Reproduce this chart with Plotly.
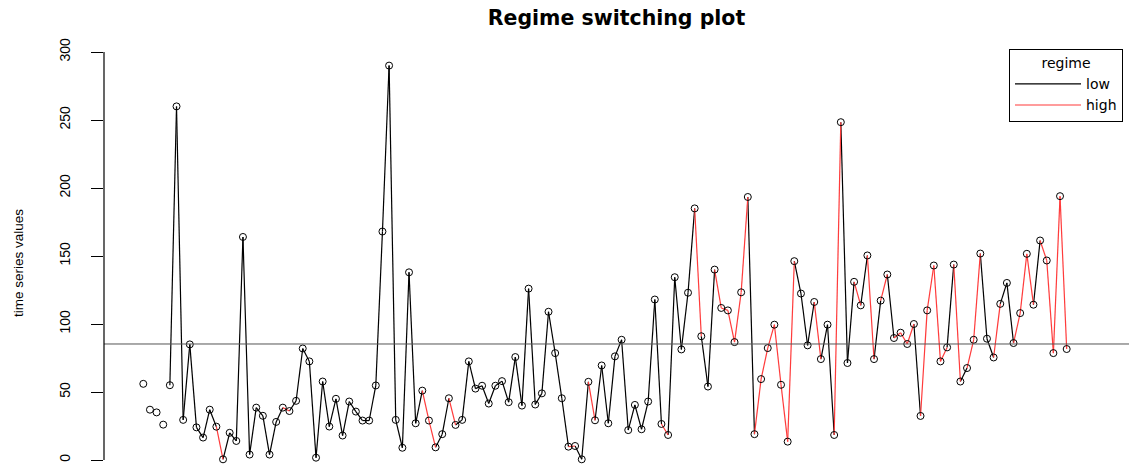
import plotly.graph_objects as go

# ---- data ----
time_index = list(range(1, 141))
values = [
    56, 37, 35, 26, 55, 260, 29.5, 85, 24, 16.5,
    37, 24.5, 0.5, 20, 14, 164, 4, 38.5, 32.5, 4,
    28, 38.5, 36, 43.5, 82, 72.5, 1.7, 57.7, 24.6, 45,
    18, 43, 35.6, 29, 29, 54.8, 168, 290, 29.5, 9,
    138, 27, 51, 29, 9.3, 19, 45.4, 25.8, 29.5, 72.5,
    52.5, 54.6, 41.5, 54.6, 58, 42.5, 75.7, 40, 126, 40.8,
    49, 109, 78.6, 45.4, 9.8, 10.3, 0.5, 57.5, 29.2, 69.5,
    27, 76.2, 88.4, 22, 40.5, 22.6, 43, 118, 26.5, 18.4,
    134.4, 81.3, 123, 185, 91, 54, 140, 111.8, 110, 86.7,
    123.3, 193.4, 19, 59.5, 82.3, 99.5, 55.3, 13.5, 146.2, 122.4,
    84.3, 116.2, 74.2, 99.5, 18.4, 248.4, 71.3, 131, 113.7, 150.4,
    74.2, 117.2, 136.4, 89.7, 93.6, 85.3, 100, 32.4, 110, 143,
    72.5, 82.8, 143.7, 57.7, 67.6, 88.4, 151.8, 89.2, 75.4, 114.8,
    130.2, 86, 108, 151.6, 114.2, 161.4, 146.7, 78.6, 194, 81.6,
]
# regime of the segment that ends at each point (None = no segment)
L, H = "low", "high"
regime = [
    None, None, None, None, None, L, L, L, L, L,
    L, L, H, L, L, L, L, L, L, L,
    L, L, H, L, L, L, L, L, L, L,
    L, L, L, L, L, L, L, L, L, L,
    L, L, L, H, H, L, L, H, L, L,
    L, L, L, L, L, L, L, L, L, L,
    L, L, L, L, L, H, L, L, H, L,
    L, L, L, L, L, L, L, L, L, H,
    L, L, L, L, H, L, L, H, H, H,
    H, H, L, H, H, H, H, H, H, L,
    L, L, H, L, L, H, L, L, H, L,
    H, L, H, L, H, H, H, L, H, H,
    H, H, L, H, L, H, H, L, L, H,
    L, L, H, H, H, L, H, H, H, H,
]
threshold = 85.3
regime_names = ["low", "high"]
regime_colors = {"low": "#000000", "high": "#ff3b3b"}
y_ticks = [0, 50, 100, 150, 200, 250, 300]

fig = go.Figure()

for name in regime_names:
    xs, ys = [], []
    for i in range(1, len(values)):
        if regime[i] == name:
            xs += [time_index[i - 1], time_index[i], None]
            ys += [values[i - 1], values[i], None]
    fig.add_trace(go.Scatter(
        x=xs, y=ys, mode="lines", name=name,
        line=dict(color=regime_colors[name], width=1.2),
        hoverinfo="skip",
    ))

fig.add_trace(go.Scatter(
    x=time_index, y=values, mode="markers", showlegend=False,
    marker=dict(symbol="circle-open", size=7, color="#000000",
                line=dict(width=1, color="#000000")),
))

# reference line and R-style y axis line
fig.add_shape(type="line", xref="paper", x0=0, x1=1, yref="y",
              y0=threshold, y1=threshold, line=dict(color="#555555", width=1))
fig.add_shape(type="line", xref="paper", x0=0, x1=0, yref="y",
              y0=y_ticks[0], y1=y_ticks[-1], line=dict(color="#000000", width=1.2))

W, H_ = 1129, 464
ml, mr, mt, mb = 104, 0, 40, 0
px_per_unit_y = 1.36
y_min = -(H_ - 460) / px_per_unit_y
y_max = y_min + (H_ - mt - mb) / px_per_unit_y
px_per_unit_x = 6.643
x_min = 1 - (143.3 - ml) / px_per_unit_x
x_max = x_min + (W - ml - mr) / px_per_unit_x

sans = "Liberation Sans, Arial, sans-serif"

fig.update_layout(
    width=W, height=H_,
    margin=dict(l=ml, r=mr, t=mt, b=mb),
    paper_bgcolor="white", plot_bgcolor="white",
    title=dict(text="<b>Regime switching plot</b>", x=(ml + (W - ml - mr) / 2) / W,
               xanchor="center", y=1 - 18 / H_, yanchor="middle",
               font=dict(family="DejaVu Sans", size=20.5, color="#000000")),
    xaxis=dict(visible=False, range=[x_min, x_max]),
    yaxis=dict(range=[y_min, y_max], tickvals=y_ticks, ticks="outside",
               ticklen=12, tickwidth=1, tickcolor="#000000", showgrid=False,
               zeroline=False, showline=False, tickangle=-90,
               ticklabelstandoff=15,
               tickfont=dict(family=sans, size=14, color="#000000")),
    legend=dict(x=(1009 - ml) / (W - ml - mr), y=1 - (49 - mt) / (H_ - mt - mb),
                xanchor="left", yanchor="top",
                bordercolor="#000000", borderwidth=1, bgcolor="white",
                itemwidth=66,
                title=dict(text="regime", side="top center",
                           font=dict(family="DejaVu Sans", size=14, color="#000000")),
                font=dict(family="DejaVu Sans", size=14, color="#000000"),
                tracegroupgap=0),
    annotations=[dict(text="time series values", xref="paper", yref="paper",
                      x=(18 - ml) / (W - ml - mr), y=1 - (263 - mt) / (H_ - mt - mb),
                      xanchor="center", yanchor="middle", textangle=-90,
                      showarrow=False,
                      font=dict(family=sans, size=13.5, color="#000000"))],
    showlegend=True,
)

fig.write_html(
    "out.html",
    config={"displayModeBar": False},
    post_script="document.body.style.margin='0';document.body.style.overflow='hidden';",
)
